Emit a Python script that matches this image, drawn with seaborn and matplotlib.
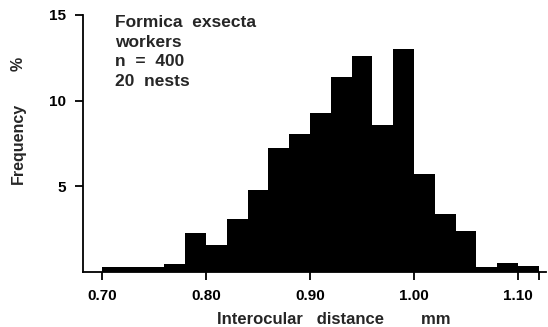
import numpy as np
import pandas as pd
import matplotlib
matplotlib.use("Agg")
import matplotlib.pyplot as plt
import seaborn as sns

# Data (bin width 0.02 mm)
bin_left = [0.70, 0.72, 0.74, 0.76, 0.78, 0.80, 0.82, 0.84, 0.86, 0.88, 0.90,
            0.92, 0.94, 0.96, 0.98, 1.00, 1.02, 1.04, 1.06, 1.08, 1.10]
freq_pct = [0.3, 0.3, 0.3, 0.45, 2.3, 1.55, 3.1, 4.8, 7.25, 8.05, 9.3,
            11.4, 12.6, 8.6, 13.0, 5.7, 3.4, 2.4, 0.3, 0.5, 0.35]
bin_width = 0.02
x_ticks = [0.70, 0.80, 0.90, 1.00, 1.10]
x_tick_labels = ["0.70", "0.80", "0.90", "1.00", "1.10"]
y_ticks = [5, 10, 15]
annotation = ["Formica  exsecta", "workers", "n  =  400", "20  nests"]

sns.set_theme(style="ticks")
plt.rcParams["font.family"] = ["Liberation Sans", "DejaVu Sans"]

df = pd.DataFrame({"x": [b + bin_width / 2 for b in bin_left], "w": freq_pct})
edges = [b for b in bin_left] + [bin_left[-1] + bin_width]

W, H = 548, 327
fig = plt.figure(figsize=(W / 100, H / 100), dpi=100)
ax = fig.add_axes([83 / W, 1 - 272 / H, (546 - 83) / W, (272 - 15) / H])

sns.histplot(data=df, x="x", weights="w", bins=edges, color="black",
             alpha=1, linewidth=0, edgecolor="black", ax=ax)

ax.set_xlim(0.6817, 1.127)
ax.set_ylim(0, 15)
ax.set_xticks(x_ticks + [1.12])
ax.set_xticklabels(x_tick_labels + [""])
ax.set_yticks(y_ticks)
ax.set_yticklabels([str(v) for v in y_ticks])
for s in ["top", "right"]:
    ax.spines[s].set_visible(False)
for s in ["left", "bottom"]:
    ax.spines[s].set_linewidth(1.3)
    ax.spines[s].set_color("black")
ax.tick_params(axis="both", direction="out", length=6, width=1.3, colors="black",
               labelsize=11)
ax.tick_params(axis="x", pad=6)
ax.tick_params(axis="y", pad=6)
for lab in ax.get_xticklabels() + ax.get_yticklabels():
    lab.set_fontweight("bold")

ax.set_xlabel("Interocular   distance        mm", fontsize=12, fontweight="bold")
ax.set_ylabel("Frequency", fontsize=11.5, fontweight="bold")
ax.xaxis.set_label_coords((334 - 83) / 463, -(319 - 272) / 257)
ax.yaxis.set_label_coords(-(83 - 18) / 463, (272 - 143) / 257)
ax.xaxis.label.set_va("center")
ax.yaxis.label.set_va("center")
fig.text(18 / W, 1 - 64 / H, "%", fontsize=11.5, fontweight="bold",
         rotation=90, ha="center", va="center")

fig.text(115 / W, 1 - 15 / H, "\n".join(annotation), fontsize=12.5,
         fontweight="bold", va="top", ha="left", linespacing=1.38)

fig.savefig("out.png", dpi=100)
